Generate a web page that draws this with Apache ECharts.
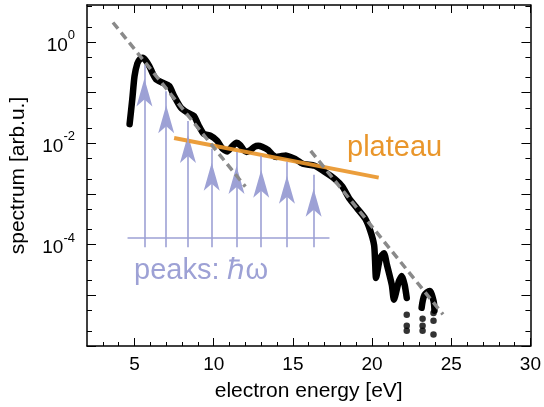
<!DOCTYPE html>
<html><head><meta charset="utf-8">
<script src="https://cdn.jsdelivr.net/npm/echarts@6/dist/echarts.min.js"></script>
<style>html,body{margin:0;padding:0;background:#fff}#c{width:544px;height:407px}</style>
</head><body><div id="c"></div>
<script>
// ---- data (energy [eV], spectrum [arb.u.]) ----
const spectrumMain = [
  [4.69,0.024],[4.86,0.0746],[5.0,0.211],[5.18,0.38],[5.35,0.465],[5.52,0.49],[5.72,0.43],[5.94,0.335],
  [6.15,0.24],[6.36,0.184],[6.77,0.158],[7.19,0.136],[7.5,0.0865],[7.92,0.0513],[8.33,0.0408],
  [8.75,0.0351],[9.06,0.0223],[9.37,0.0154],[9.79,0.0142],[10.21,0.01135],[10.55,0.0079],
  [10.85,0.0069],[11.15,0.0086],[11.44,0.0103],[11.68,0.0092],[11.88,0.0075],[12.08,0.0068],
  [12.3,0.0073],[12.58,0.0086],[12.81,0.0090],[13.05,0.0086],[13.44,0.0074],[13.75,0.0058],
  [13.97,0.0054],[14.25,0.0056],[14.56,0.0058],[14.85,0.0054],[15.13,0.00496],[15.63,0.00396],
  [16.38,0.00362],[17.0,0.00276],[17.63,0.00201],[18.13,0.0014],[18.56,0.000817],[19.06,0.00052],
  [19.56,0.000331],[19.88,0.000192],[20.13,9.8e-5],[20.19,4.8e-5],[20.25,2.2e-5],[20.5,5.4e-5],
  [20.75,6.8e-5],[20.94,4e-5],[21.25,1.6e-5],[21.38,8.2e-6],[21.69,1.9e-5],[21.88,2.4e-5],
  [22.06,1.6e-5],[22.19,8.9e-6]
];
const spectrumLastLobe = [[23.13,5.7e-6],[23.31,1.02e-5],[23.63,1.22e-5],[23.88,7.8e-6],[23.94,4.97e-6]];
const spectrumDots = [
  [22.19,4.15e-6],[22.19,2.5e-6],[22.19,2.0e-6],
  [23.19,3.46e-6],[23.19,2.52e-6],[23.19,2.0e-6],
  [23.88,4.5e-6],[23.88,3.16e-6],[23.88,1.68e-6]
];
const peakEnergies = [5.625, 7.0, 8.375, 9.875, 11.44, 13.0, 14.625, 16.31];
const peakTips = [0.362, 0.107, 0.0276, 0.0078, 0.0068, 0.0057, 0.00434, 0.00241];
const arrowBaseline = 1.40e-4;
const arrowFoot = 8.9e-5;
const baselineRange = [4.56, 17.31];
const perturbativeLine = [[3.64, 2.44], [12.0, 1.40e-3]];
const cutoffLine = [[16.125, 7.13e-3], [24.48, 4.2e-6]];
const plateauLine = [[7.5, 0.0128], [20.42, 0.00211]];
const xMajorTicks = [5, 10, 15, 20, 25, 30];
const xMinorTicks = [3,4,6,7,8,9,11,12,13,14,16,17,18,19,21,22,23,24,26,27,28,29];
const yMajorTicks = [1e-6, 1e-5, 1e-4, 1e-3, 1e-2, 1e-1, 1];
const yMinorTicks = [2e-6,5e-6,2e-5,5e-5,2e-4,5e-4,2e-3,5e-3,2e-2,5e-2,0.2,0.5,2,5];
const yLabelTicks = [1e-4, 1e-2, 1];

const FONT = 'Liberation Sans, Arial, sans-serif';
const LAV = '#9DA1D5';
const ORANGE = '#E9962B';

const chart = echarts.init(document.getElementById('c'), null, {renderer: 'canvas'});

function xAxisDef(pos, ticks, len, showLabel, showLine) {
  return {
    type: 'value', min: 2, max: 30, position: pos,
    axisLine: {show: showLine, onZero: false, lineStyle: {color: '#000', width: 1.5}},
    axisTick: {show: true, inside: true, length: len, customValues: ticks, lineStyle: {color: '#000', width: 1}},
    axisLabel: showLabel ? {show: true, customValues: xMajorTicks, color: '#000', fontSize: 19, fontFamily: FONT, margin: 9} : {show: false},
    splitLine: {show: false},
    name: showLabel ? 'electron energy [eV]' : '',
    nameLocation: 'middle', nameGap: 35,
    nameTextStyle: {fontSize: 21, fontFamily: FONT, color: '#000'}
  };
}
function yAxisDef(pos, ticks, len, showLabel, showLine) {
  return {
    type: 'log', logBase: 10, min: 1e-6, max: 5.4, position: pos,
    axisLine: {show: showLine, onZero: false, lineStyle: {color: '#000', width: 1.5}},
    axisTick: {show: true, inside: true, length: len, customValues: ticks, lineStyle: {color: '#000', width: 1}},
    axisLabel: showLabel ? {
      show: true, customValues: yLabelTicks, margin: 12,
      formatter: function (v) { const e = Math.round(Math.log10(v)); return '{b|10}{s|' + e + '}'; },
      rich: {
        b: {fontSize: 19, fontFamily: FONT, color: '#000', verticalAlign: 'bottom', lineHeight: 26},
        s: {fontSize: 13, fontFamily: FONT, color: '#000', verticalAlign: 'top', lineHeight: 13}
      }
    } : {show: false},
    splitLine: {show: false},
    name: showLabel ? 'spectrum [arb.u.]' : '',
    nameLocation: 'middle', nameGap: 58,
    nameTextStyle: {fontSize: 21, fontFamily: FONT, color: '#000'}
  };
}

const option = {
  animation: false,
  backgroundColor: '#fff',
  grid: {left: 87, right: 10, top: 5, bottom: 58},
  xAxis: [
    xAxisDef('bottom', xMajorTicks, 8, true, true),
    xAxisDef('bottom', xMinorTicks, 4, false, false),
    xAxisDef('top', xMajorTicks, 8, false, true),
    xAxisDef('top', xMinorTicks, 4, false, false)
  ],
  yAxis: [
    yAxisDef('left', yMajorTicks, 9, true, true),
    yAxisDef('left', yMinorTicks, 5, false, false),
    yAxisDef('right', yMajorTicks, 9, false, true),
    yAxisDef('right', yMinorTicks, 5, false, false)
  ],
  series: [
    {
      type: 'scatter', name: 'peaks', silent: true, z: 2,
      data: peakEnergies.map((e, i) => [e, peakTips[i]]),
      symbol: 'arrow', symbolSize: [12, 28], symbolOffset: [0, '50%'],
      itemStyle: {color: LAV, opacity: 1},
      markLine: {
        silent: true, symbol: ['none', 'none'], label: {show: false},
        lineStyle: {color: LAV, width: 1.6, type: 'solid'},
        emphasis: {disabled: true},
        data: peakEnergies.map((e, i) => [{coord: [e, arrowFoot]}, {coord: [e, peakTips[i]]}])
          .concat([[{coord: [baselineRange[0], arrowBaseline]}, {coord: [baselineRange[1], arrowBaseline]}]])
      }
    },
    {
      type: 'line', name: 'spectrum', data: spectrumMain, showSymbol: false, smooth: 0.2, z: 3,
      lineStyle: {color: '#000', width: 6.5, cap: 'round', join: 'round'}
    },
    {
      type: 'line', name: 'spectrum2', data: spectrumLastLobe, showSymbol: false, smooth: 0.3, z: 3,
      lineStyle: {color: '#000', width: 6.5, cap: 'round', join: 'round'}
    },
    {
      type: 'scatter', name: 'dots', data: spectrumDots, symbol: 'circle', symbolSize: 6.5, z: 3,
      itemStyle: {color: '#000'}
    },
    {
      type: 'line', name: 'plateau', data: plateauLine, showSymbol: false, z: 4,
      lineStyle: {color: ORANGE, width: 4, opacity: 0.92}
    },
    {
      type: 'line', name: 'pert', data: perturbativeLine, showSymbol: false, z: 5,
      lineStyle: {color: '#8a8a8a', width: 3.5, type: [8, 5]}
    },
    {
      type: 'line', name: 'cutoff', data: cutoffLine, showSymbol: false, z: 5,
      lineStyle: {color: '#8a8a8a', width: 3.5, type: [8, 5]}
    }
  ],
  graphic: [
    {type: 'text', left: 347, top: 133, silent: true, style: {text: 'plateau', fill: ORANGE, font: '29px ' + FONT}},
    {type: 'text', left: 134, top: 256, silent: true, style: {text: 'peaks: ℏω', fill: LAV, font: '29px ' + FONT}}
  ]
};
chart.setOption(option);
</script>
</body></html>
